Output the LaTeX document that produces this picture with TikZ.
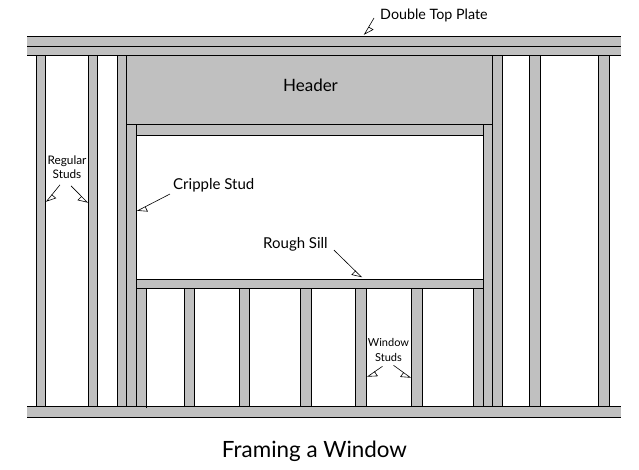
\documentclass[tikz,border=0pt]{standalone}
\usepackage{xcolor}
\usepackage{fontspec}
\setmainfont{Lato}
\usetikzlibrary{arrows.meta}
\definecolor{lumbergray}{HTML}{C0C0C0}

\begin{document}
\begin{tikzpicture}[x=1pt, y=-1pt]

\tikzstyle{lumber} = [draw=black, fill=lumbergray, line width=1pt]
\tikzstyle{plate} = [fill=lumbergray]
\tikzstyle{plate line} = [draw=black, line width=1pt]
\tikzstyle{label} = [inner sep=0pt, align=center, font=\fontsize{15}{18}\selectfont]
\tikzstyle{small label} = [inner sep=0pt, align=center, font=\fontsize{11}{15}\selectfont]
\tikzstyle{title} = [inner sep=0pt, font=\fontsize{22.4}{26}\selectfont]
\tikzstyle{arrow left} = [line width=0.6pt, -{Triangle[open, left, length=9pt, width=11pt]}]
\tikzstyle{arrow right} = [line width=0.6pt, -{Triangle[open, right, length=9pt, width=11pt]}]

\useasboundingbox (0,0) rectangle (639,470);

% full height studs
\draw [lumber] (36.5,55.5) rectangle (45.5,406.5);
\draw [lumber] (88.5,55.5) rectangle (97.5,406.5);
\draw [lumber] (117.5,55.5) rectangle (126.5,406.5);
\draw [lumber] (492.5,55.5) rectangle (502.5,406.5);
\draw [lumber] (529.5,55.5) rectangle (540.5,406.5);
\draw [lumber] (598.5,55.5) rectangle (609.5,406.5);

% cripple studs and header
\draw [lumber] (126.5,124.5) rectangle (136.5,406.5);
\draw [lumber] (483.5,124.5) rectangle (492.5,406.5);
\draw [lumber] (126.5,55.5) rectangle (492.5,124.5);
\draw [lumber] (136.5,124.5) rectangle (483.5,135.5);

% window studs
\draw [lumber] (136.5,288.5) rectangle (146.5,406.5);
\draw [lumber] (184.5,288.5) rectangle (194.5,406.5);
\draw [lumber] (239.5,288.5) rectangle (249.5,406.5);
\draw [lumber] (300.5,288.5) rectangle (311.5,406.5);
\draw [lumber] (355.5,288.5) rectangle (366.5,406.5);
\draw [lumber] (411.5,288.5) rectangle (422.5,406.5);
\draw [lumber] (473.5,288.5) rectangle (483.5,406.5);

% plates and sill, open at both ends
\draw [lumber] (136.5,279.5) rectangle (483.5,288.5);
\fill [plate] (27,36.5) rectangle (621,55.5);
\fill [plate] (27,406.5) rectangle (621,417.5);
\draw [plate line] (27,36.5) -- (621,36.5);
\draw [plate line] (27,46.5) -- (621,46.5);
\draw [plate line] (27,55.5) -- (621,55.5);
\draw [plate line] (27,406.5) -- (621,406.5);
\draw [plate line] (27,417.5) -- (621,417.5);
\draw [plate line] (146.5,406.5) -- (146.5,408);

\node (header) [label, font=\fontsize{17}{20}\selectfont] at (310.5,85) {Header};
\node (plate) [label, anchor=west, font=\fontsize{14.3}{17}\selectfont] at (380,15) {Double Top Plate};
\node (regular) [small label, font=\fontsize{11.8}{14.5}\selectfont] at (67,167) {Regular\\Studs};
\node (cripple) [label, anchor=west] at (173,185) {Cripple Stud};
\node (sill) [label, anchor=west] at (263,244) {Rough Sill};
\node (window) [small label] at (388.5,349.5) {Window\\Studs};
\node (title) [title] at (314.5,451) {Framing a Window};

\coordinate (plate end) at (364,35);
\coordinate (regular left) at (46,202);
\coordinate (regular right) at (88,203);
\coordinate (cripple end) at (137,211);
\coordinate (sill end) at (362,277.5);
\coordinate (window left) at (367,377);
\coordinate (window right) at (411,378);

\draw [arrow left] ([xshift=-6pt,yshift=-3pt]plate.west) -- (plate end);
\draw [arrow left] ([xshift=-7pt,yshift=-6pt]regular.south) -- (regular left);
\draw [arrow right] ([xshift=4pt,yshift=-7pt]regular.south) -- (regular right);
\draw [arrow left] ([xshift=-3pt,yshift=-2pt]cripple.south west) -- (cripple end);
\draw [arrow right] ([xshift=6pt,yshift=1pt]sill.south east) -- (sill end);
\draw [arrow left] ([xshift=-6pt,yshift=-5pt]window.south) -- (window left);
\draw [arrow right] ([xshift=5pt,yshift=-4pt]window.south) -- (window right);

\end{tikzpicture}
\end{document}
